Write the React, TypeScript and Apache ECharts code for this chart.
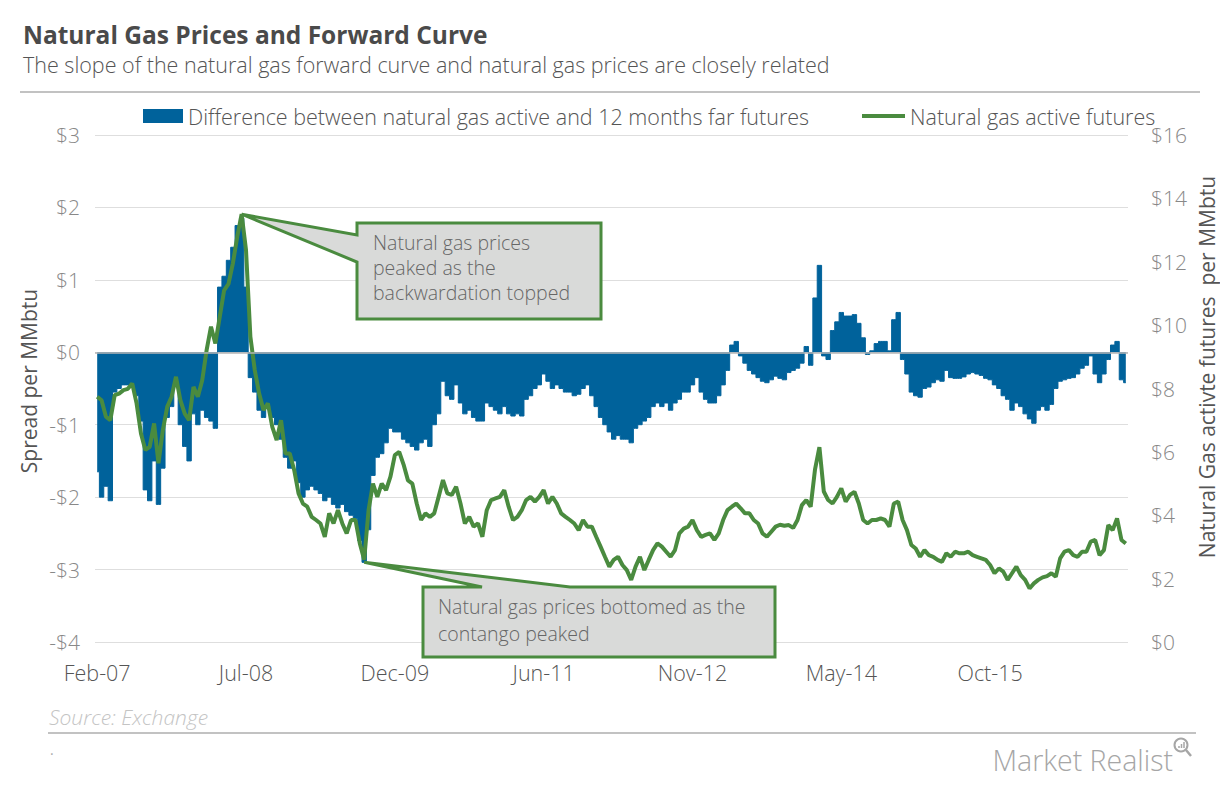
import React, { useEffect, useRef } from "react";
import * as echarts from "echarts";

const FONT = "'Open Sans', 'Noto Sans', sans-serif";

const TITLE = "Natural Gas Prices and Forward Curve";
const SUBTITLE = "The slope of the natural gas forward curve and natural gas prices are closely related";
const SPREAD_NAME = "Difference between natural gas active and 12 months far futures";
const PRICE_NAME = "Natural gas active futures";

// x tick labels and their category positions
const TICK_LABELS = ["Feb-07", "Jul-08", "Dec-09", "Jun-11", "Nov-12", "May-14", "Oct-15"];
const TICK_INDEX = [0, 34, 68, 102, 136, 170, 204];

// half-month observations, Feb-2007 .. Nov-2016 (236 points)
const spreadA = [
  -1.65, -2.0, -1.85, -2.05, -0.55, -0.5, -0.45, -0.45, -0.45, -0.6,
  -0.95, -1.9, -2.05, -1.5, -2.1, -1.6, -0.9, -0.75, -0.4, -1.0,
  -1.3, -1.5, -0.85, -1.0, -0.8, -0.9, -0.95, -1.05, 0.9, 1.05,
  1.27, 1.45, 1.75, 1.85, 0.9, -0.35, -0.55, -0.8, -0.9, -0.75,
  -0.9, -1.0, -1.2, -1.45, -1.6, -1.5, -1.8, -2.0, -1.9, -1.85,
  -1.9, -1.95, -2.05, -2.0, -2.1, -2.15, -2.1, -2.2, -2.25, -2.3,
  -2.6, -2.9, -2.45, -1.7, -1.45, -1.4, -1.25, -1.05, -1.1, -1.1,
  -1.2, -1.25,
];
const spreadB = [
  -1.3, -1.35, -1.25, -1.2, -1.3, -1.0, -0.85, -0.4, -0.6, -0.65,
  -0.45, -0.7, -0.85, -0.8, -0.9, -0.95, -0.95, -0.7, -0.75, -0.8,
  -0.85, -0.75, -0.85, -0.88, -0.85, -0.88, -0.65, -0.6, -0.5, -0.45,
  -0.3, -0.4, -0.5, -0.45, -0.5, -0.55, -0.55, -0.6, -0.58, -0.5,
  -0.45, -0.6, -0.75, -0.9, -1.0, -1.1, -1.2, -1.15, -1.2, -1.2,
  -1.25, -1.05, -1.0, -0.95, -0.9, -0.75, -0.7, -0.75, -0.7, -0.8,
  -0.7, -0.65, -0.55, -0.55, -0.45, -0.35, -0.55, -0.65, -0.7, -0.7,
  -0.6, -0.45, -0.25, 0.1, 0.15, -0.05, -0.15, -0.25, -0.3, -0.35,
  -0.4, -0.42, -0.38, -0.33,
];
const spreadC = [
  -0.36, -0.38, -0.28, -0.25, -0.22, -0.15, 0.08, -0.18, 0.75, 1.2,
  -0.05, -0.1, 0.3, 0.42, 0.55, 0.5, 0.5, 0.52, 0.4, 0.2,
  -0.03, 0.02, 0.12, 0.15, 0.15, 0.02, 0.45, 0.55, -0.1, -0.3,
  -0.55, -0.6, -0.62, -0.5, -0.48, -0.42, -0.38, -0.4, -0.25, -0.35,
  -0.36, -0.36, -0.34, -0.3, -0.28, -0.3, -0.32, -0.36, -0.38, -0.45,
  -0.5, -0.6, -0.65, -0.8, -0.7, -0.75, -0.85, -0.92, -0.98, -0.8,
  -0.75, -0.8, -0.72, -0.5, -0.4, -0.38, -0.36, -0.35, -0.3, -0.22,
  -0.18, -0.05, -0.3, -0.42, -0.3, -0.1, 0.1, 0.15, -0.38, -0.42,
];

const priceA = [
  7.74, 7.63, 7.11, 7.0, 7.79, 7.84, 7.95, 7.99, 8.16, 7.53,
  6.58, 6.06, 6.16, 6.9, 5.64, 6.69, 7.42, 7.74, 8.37, 7.63,
  7.21, 7.0, 8.05, 7.74, 8.26, 9.21, 9.95, 9.42, 10.26, 11.1,
  11.3, 11.95, 12.79, 13.5, 12.37, 9.63, 8.58, 7.84, 7.32, 7.53,
  6.79, 6.37, 7.0, 5.95, 5.95, 5.43, 4.69, 4.37, 4.27, 3.95,
  3.85, 3.74, 3.32, 4.06, 3.74, 4.16, 3.74, 3.43, 3.85, 3.85,
  3.11, 2.6, 4.16, 5.0, 4.58, 5.0, 4.79, 5.22, 5.9, 6.0,
  5.6, 5.1,
];
const priceB = [
  5.0, 4.37, 3.85, 4.06, 3.95, 4.06, 4.58, 5.11, 4.69, 4.64,
  4.9, 4.37, 3.74, 3.95, 3.64, 3.74, 3.32, 4.16, 4.48, 4.53,
  4.58, 4.79, 4.27, 3.85, 3.95, 4.16, 4.48, 4.58, 4.43, 4.58,
  4.79, 4.37, 4.58, 4.37, 4.06, 3.95, 3.85, 3.74, 3.53, 3.85,
  3.64, 3.64, 3.32, 3.01, 2.69, 2.38, 2.59, 2.69, 2.43, 2.27,
  1.96, 2.38, 2.69, 2.27, 2.59, 2.9, 3.11, 3.01, 2.85, 2.69,
  2.9, 3.43, 3.58, 3.64, 3.85, 3.53, 3.32, 3.38, 3.43, 3.22,
  3.43, 3.85, 4.16, 4.27, 4.37, 4.22, 4.06, 4.06, 3.85, 3.74,
  3.43, 3.32, 3.48, 3.64,
];
const priceC = [
  3.7, 3.67, 3.69, 3.6, 3.85, 4.32, 4.48, 4.27, 5.45, 6.15,
  4.75, 4.48, 4.37, 4.58, 4.85, 4.43, 4.64, 4.74, 4.37, 3.85,
  3.74, 3.85, 3.85, 3.9, 3.85, 3.64, 4.37, 4.43, 3.85, 3.53,
  3.06, 2.95, 2.69, 2.9, 2.74, 2.69, 2.59, 2.53, 2.8, 2.69,
  2.85, 2.8, 2.8, 2.85, 2.74, 2.69, 2.64, 2.59, 2.43, 2.17,
  2.32, 2.22, 1.96, 2.17, 2.38, 2.11, 1.96, 1.69, 1.85, 1.96,
  2.04, 2.08, 2.17, 2.06, 2.64, 2.85, 2.9, 2.74, 2.69, 2.85,
  2.85, 3.17, 3.22, 2.74, 2.9, 3.69, 3.53, 3.9, 3.22, 3.11,
];

const spreadData = [...spreadA, ...spreadB, ...spreadC];
const priceData = [...priceA, ...priceB, ...priceC];

const MONTHS = ["Jan", "Feb", "Mar", "Apr", "May", "Jun", "Jul", "Aug", "Sep", "Oct", "Nov", "Dec"];
const categories = spreadData.map((_, i) => {
  const mAbs = 1 + Math.floor(i / 2);
  const yr = 2007 + Math.floor(mAbs / 12);
  return `${MONTHS[mAbs % 12]}-${String(yr).slice(2)}${i % 2 ? " (2)" : " (1)"}`;
});

const BLUE = "#00629b";
const GREEN = "#4a8b3f";

export default function App() {
  const ref = useRef<HTMLDivElement>(null);

  useEffect(() => {
    if (!ref.current) return;
    const chart = echarts.init(ref.current, undefined, { renderer: "svg" });
    const legendText = { fontSize: 21.5, color: "#555", fontFamily: FONT, fontWeight: 300 };
    chart.setOption({
      animation: false,
      backgroundColor: "#fff",
      title: {
        text: TITLE,
        subtext: SUBTITLE,
        left: 18,
        top: 17,
        itemGap: 6,
        textStyle: { fontSize: 24.5, fontWeight: "bold", color: "#4a4a4a", fontFamily: FONT },
        subtextStyle: { fontSize: 21.5, color: "#555", fontWeight: 300, fontFamily: FONT },
      },
      legend: [
        {
          data: [{ name: SPREAD_NAME, icon: "rect", itemStyle: { color: BLUE } }],
          left: 143,
          top: 105,
          padding: 0,
          itemWidth: 40,
          itemHeight: 14,
          textStyle: legendText,
        },
        {
          data: [{ name: PRICE_NAME, icon: "rect", itemStyle: { color: GREEN } }],
          left: 862,
          top: 105,
          padding: 0,
          itemWidth: 43,
          itemHeight: 4,
          textStyle: legendText,
        },
      ],
      grid: { left: 95, right: 92, top: 135, bottom: 143, containLabel: false },
      xAxis: {
        type: "category",
        data: categories,
        boundaryGap: true,
        axisLine: { show: false },
        axisTick: { show: false },
        splitLine: { show: false },
        axisLabel: {
          interval: (index: number) => TICK_INDEX.includes(index),
          formatter: (_v: string, index: number) => {
            const k = TICK_INDEX.indexOf(index);
            return k >= 0 ? TICK_LABELS[k] : "";
          },
          margin: 19,
          fontSize: 21.5,
          color: "#555",
          fontFamily: FONT,
          fontWeight: 300,
        },
      },
      yAxis: [
        {
          type: "value",
          min: -4,
          max: 3,
          interval: 1,
          axisLine: { show: false },
          axisTick: { show: false },
          splitLine: { lineStyle: { color: "#dedede", width: 1 } },
          axisLabel: {
            formatter: (v: number) => (v < 0 ? "-$" + Math.abs(v) : "$" + v),
            margin: 15,
            fontSize: 21,
            color: "#888",
            fontFamily: FONT,
            fontWeight: 300,
          },
        },
        {
          type: "value",
          min: 0,
          max: 16,
          interval: 2,
          axisLine: { show: false },
          axisTick: { show: false },
          splitLine: { show: false },
          axisLabel: {
            formatter: (v: number) => "$" + v,
            margin: 23,
            fontSize: 21,
            color: "#888",
            fontFamily: FONT,
            fontWeight: 300,
          },
        },
      ],
      series: [
        {
          name: SPREAD_NAME,
          type: "line",
          data: spreadData,
          yAxisIndex: 0,
          step: "middle",
          symbol: "none",
          showSymbol: false,
          lineStyle: { color: BLUE, width: 1 },
          itemStyle: { color: BLUE },
          areaStyle: { color: BLUE, opacity: 1, origin: 0 },
          markLine: {
            silent: true,
            symbol: "none",
            label: { show: false },
            lineStyle: { color: "#b5b5b5", width: 1.5, type: "solid" },
            data: [{ yAxis: 0 }],
          },
        },
        {
          name: PRICE_NAME,
          type: "line",
          data: priceData,
          yAxisIndex: 1,
          symbol: "none",
          showSymbol: false,
          lineStyle: { color: GREEN, width: 4 },
          itemStyle: { color: GREEN },
        },
      ],
    });

    // callout anchors from the data
    let peakIdx = 0;
    priceData.forEach((v, i) => { if (v > priceData[peakIdx]) peakIdx = i; });
    let lowIdx = 0;
    spreadData.forEach((v, i) => { if (v < spreadData[lowIdx]) lowIdx = i; });
    const tip1 = chart.convertToPixel({ seriesIndex: 1 }, [peakIdx, priceData[peakIdx]]) as number[];
    const tip2 = chart.convertToPixel({ seriesIndex: 0 }, [lowIdx, spreadData[lowIdx]]) as number[];

    const calloutStyle = { fill: "#d9dad9", stroke: GREEN, lineWidth: 3, lineJoin: "miter" };
    const noteText = { fontSize: 19.5, fill: "#666", fontFamily: FONT, fontWeight: 300 };

    chart.setOption({
      graphic: [
        { type: "line", shape: { x1: 20, y1: 92, x2: 1200, y2: 92 }, style: { stroke: "#c2c2c2", lineWidth: 2 } },
        { type: "line", shape: { x1: 48, y1: 733, x2: 1196, y2: 733 }, style: { stroke: "#c2c2c2", lineWidth: 2 } },
        {
          type: "text",
          x: 29,
          y: 381,
          rotation: Math.PI / 2,
          style: { text: "Spread per MMbtu", fontSize: 21, fill: "#555", fontFamily: FONT, align: "center", verticalAlign: "middle" },
        },
        {
          type: "text",
          x: 1207,
          y: 367,
          rotation: Math.PI / 2,
          style: { text: "Natural Gas activte futures  per MMbtu", fontSize: 21, fill: "#555", fontFamily: FONT, align: "center", verticalAlign: "middle" },
        },
        {
          type: "text",
          x: 49,
          y: 717,
          style: { text: "Source: Exchange", fontSize: 21, fill: "#c4c4c4", fontStyle: "italic", fontFamily: FONT, fontWeight: 300, verticalAlign: "middle" },
        },
        { type: "text", x: 50, y: 742, style: { text: ".", fontSize: 14, fill: "#aaa", fontFamily: FONT } },
        {
          type: "text",
          x: 1173,
          y: 760,
          style: { text: "Market Realist", fontSize: 28.5, fill: "#a6a6a6", fontFamily: FONT, fontWeight: 300, align: "right", verticalAlign: "middle" },
        },
        { type: "circle", shape: { cx: 1181, cy: 745, r: 6.5 }, style: { fill: "none", stroke: "#a6a6a6", lineWidth: 2 } },
        { type: "line", shape: { x1: 1186, y1: 750, x2: 1191, y2: 756 }, style: { stroke: "#a6a6a6", lineWidth: 2.5 } },
        { type: "line", shape: { x1: 1179, y1: 748, x2: 1179, y2: 746 }, style: { stroke: "#a6a6a6", lineWidth: 1.5 } },
        { type: "line", shape: { x1: 1181.5, y1: 748, x2: 1181.5, y2: 744 }, style: { stroke: "#a6a6a6", lineWidth: 1.5 } },
        { type: "line", shape: { x1: 1184, y1: 748, x2: 1184, y2: 742 }, style: { stroke: "#a6a6a6", lineWidth: 1.5 } },
        {
          type: "polygon",
          z: 100,
          shape: {
            points: [
              [357, 223], [601, 223], [601, 319], [357, 319], [357, 262],
              [tip1[0], tip1[1]], [357, 235],
            ],
          },
          style: calloutStyle,
        },
        {
          type: "text",
          z: 101,
          x: 373,
          y: 230,
          style: { ...noteText, text: "Natural gas prices\npeaked as the\nbackwardation topped", lineHeight: 25, verticalAlign: "top" },
        },
        {
          type: "polygon",
          z: 100,
          shape: {
            points: [
              [423, 587], [482, 587], [tip2[0], tip2[1]], [570, 587],
              [775, 587], [775, 657], [423, 657],
            ],
          },
          style: calloutStyle,
        },
        {
          type: "text",
          z: 101,
          x: 438,
          y: 593,
          style: { ...noteText, text: "Natural gas prices bottomed as the\ncontango peaked", lineHeight: 27, verticalAlign: "top" },
        },
      ],
    });

    return () => chart.dispose();
  }, []);

  return (
    <div
      ref={ref}
      style={{ position: "absolute", left: 0, top: 0, width: 1220, height: 785, background: "#fff" }}
    />
  );
}
